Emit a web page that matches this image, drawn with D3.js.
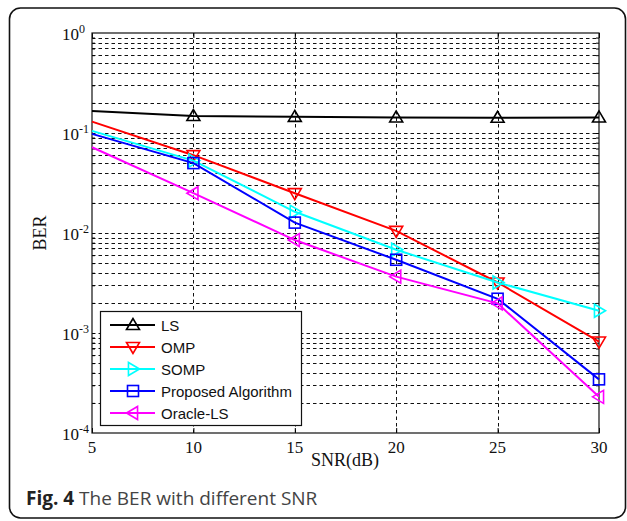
<!DOCTYPE html>
<html><head><meta charset="utf-8">
<script src="https://cdn.jsdelivr.net/npm/d3@7"></script>
<style>body{margin:0;background:#fff}svg{display:block}</style>
</head><body>
<svg id="c" width="627" height="521"></svg>
<script>
const snr = [5, 10, 15, 20, 25, 30];
const seriesNames = ["LS", "OMP", "SOMP", "Proposed Algorithm", "Oracle-LS"];
const lsBER = [0.166, 0.148, 0.145, 0.143, 0.142, 0.143];
const ompBER = [0.130, 0.060, 0.025, 0.0105, 0.0032, 0.00082];
const sompBER = [0.105, 0.053, 0.0163, 0.0068, 0.0032, 0.00167];
const proposedBER = [0.098, 0.050, 0.0127, 0.0054, 0.0022, 0.000344];
const oracleBER = [0.072, 0.025, 0.0085, 0.00366, 0.00198, 0.00023];
const xTicks = [5, 10, 15, 20, 25, 30];
const yTickExp = [0, -1, -2, -3, -4];

const colors = ["#000000", "#ff0000", "#00ffff", "#0000ff", "#ff00ff"];
const markers = ["up", "down", "right", "square", "left"];
const values = [lsBER, ompBER, sompBER, proposedBER, oracleBER];

const svg = d3.select("#c");
const L = 92, R = 599, T = 33, B = 433;
const x = d3.scaleLinear().domain([5, 30]).range([L, R]);
const y = d3.scaleLog().domain([1e-4, 1]).range([B, T]);

// outer rounded frame
svg.append("rect").attr("x", 9.5).attr("y", 8).attr("width", 616).attr("height", 510)
  .attr("rx", 11).attr("fill", "#fff").attr("stroke", "#111").attr("stroke-width", 1.6);

// grid
const grid = svg.append("g").attr("stroke", "#111").attr("stroke-width", 1).attr("stroke-dasharray", "3.5,3");
const hVals = [];
for (let e = -4; e < 0; e++) for (let m = 1; m <= 9; m++) { const v = m * Math.pow(10, e); if (v > 1e-4) hVals.push(v); }
hVals.forEach(v => grid.append("line").attr("x1", L).attr("x2", R).attr("y1", Math.round(y(v)) + 0.5).attr("y2", Math.round(y(v)) + 0.5));
[10, 15, 20, 25].forEach(v => grid.append("line").attr("y1", T).attr("y2", B).attr("x1", Math.round(x(v)) + 0.5).attr("x2", Math.round(x(v)) + 0.5));

// axes ticks
const minorVals = hVals.filter(v => v < 1);
svg.append("g").attr("transform", `translate(0,${B})`)
  .call(d3.axisBottom(x).tickValues(xTicks).tickSize(-5).tickFormat(""))
  .call(g => g.select(".domain").remove());
svg.append("g").attr("transform", `translate(0,${T})`)
  .call(d3.axisTop(x).tickValues(xTicks).tickSize(-5).tickFormat(""))
  .call(g => g.select(".domain").remove());
svg.append("g").attr("transform", `translate(${L},0)`)
  .call(d3.axisLeft(y).tickValues(minorVals).tickSize(-3).tickFormat(""))
  .call(g => g.select(".domain").remove());
svg.append("g").attr("transform", `translate(${R},0)`)
  .call(d3.axisRight(y).tickValues(minorVals).tickSize(-3).tickFormat(""))
  .call(g => g.select(".domain").remove());

svg.append("rect").attr("x", L).attr("y", T).attr("width", R - L).attr("height", B - T)
  .attr("fill", "none").attr("stroke", "#111").attr("stroke-width", 1.2);

// tick labels
const serif = "'Liberation Serif','Times New Roman',serif";
svg.append("g").selectAll("text").data(xTicks).join("text")
  .attr("x", d => x(d)).attr("y", 453).attr("text-anchor", "middle")
  .attr("font-family", serif).attr("font-size", 17).attr("fill", "#111").text(d => d);
const yl = svg.append("g").selectAll("text").data(yTickExp).join("text")
  .attr("x", 62).attr("y", d => y(Math.pow(10, d)) + 7)
  .attr("font-family", serif).attr("font-size", 17).attr("fill", "#111");
yl.append("tspan").text("10");
yl.append("tspan").attr("dy", -7).attr("font-size", 12).text(d => d === 0 ? "0" : "-" + (-d));

svg.append("text").attr("x", 345).attr("y", 466).attr("text-anchor", "middle")
  .attr("font-family", serif).attr("font-size", 18).attr("fill", "#111").text("SNR(dB)");
svg.append("text").attr("transform", `translate(46,233) rotate(-90)`).attr("text-anchor", "middle")
  .attr("font-family", serif).attr("font-size", 18).attr("fill", "#111").text("BER");

// marker drawing
function marker(g, type, cx, cy, color) {
  const s = 6.5;
  let p;
  if (type === "square") {
    g.append("rect").attr("x", cx - 5.5).attr("y", cy - 5.5).attr("width", 11).attr("height", 11)
      .attr("fill", "none").attr("stroke", color).attr("stroke-width", 1.6);
    return;
  }
  if (type === "up") p = [[cx, cy - s], [cx - s, cy + s * 0.7], [cx + s, cy + s * 0.7]];
  if (type === "down") p = [[cx, cy + s], [cx - s, cy - s * 0.7], [cx + s, cy - s * 0.7]];
  if (type === "right") p = [[cx + s, cy], [cx - s * 0.7, cy - s], [cx - s * 0.7, cy + s]];
  if (type === "left") p = [[cx - s, cy], [cx + s * 0.7, cy - s], [cx + s * 0.7, cy + s]];
  g.append("polygon").attr("points", p.map(d => d.join(",")).join(" "))
    .attr("fill", "none").attr("stroke", color).attr("stroke-width", 1.6);
}

// series
const line = d3.line().x((d, i) => x(snr[i])).y(d => y(d));
values.forEach((vals, k) => {
  const g = svg.append("g");
  g.append("path").attr("d", line(vals)).attr("fill", "none")
    .attr("stroke", colors[k]).attr("stroke-width", 2);
  vals.forEach((v, i) => { if (i > 0) marker(g, markers[k], x(snr[i]), y(v), colors[k]); });
});

// legend
const lg = svg.append("g");
lg.append("rect").attr("x", 100.5).attr("y", 311.5).attr("width", 201).attr("height", 114)
  .attr("fill", "#fff").attr("stroke", "#111").attr("stroke-width", 1.2);
seriesNames.forEach((n, k) => {
  const yy = 325 + k * 22;
  lg.append("line").attr("x1", 110).attr("x2", 155).attr("y1", yy).attr("y2", yy)
    .attr("stroke", colors[k]).attr("stroke-width", 2);
  marker(lg, markers[k], 133, yy, colors[k]);
  lg.append("text").attr("x", 161).attr("y", yy + 5.5)
    .attr("font-family", "'Liberation Sans',Arial,sans-serif").attr("font-size", 15)
    .attr("fill", "#111").text(n);
});

// caption
const cap = svg.append("text").attr("x", 26).attr("y", 505)
  .attr("font-family", "'Open Sans',sans-serif").attr("font-size", 19);
cap.append("tspan").attr("font-weight", "bold").attr("fill", "#222").text("Fig. 4");
cap.append("tspan").attr("fill", "#444").text(" The BER with different SNR");
</script>
</body></html>
